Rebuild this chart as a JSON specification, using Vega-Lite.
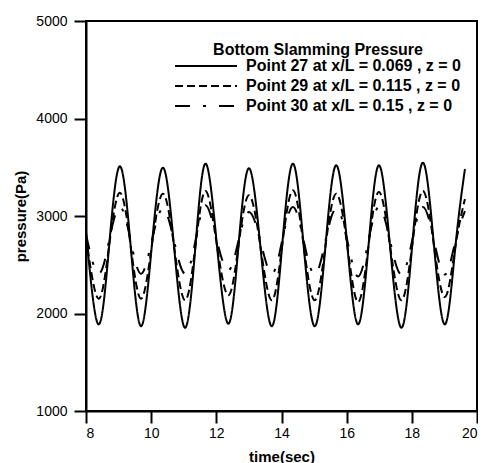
{
  "$schema": "https://vega.github.io/schema/vega-lite/v6.json",
  "width": 391,
  "height": 390,
  "padding": {"left": 13, "top": 14, "right": 0, "bottom": 0},
  "background": "white",
  "config": {
    "font": "Liberation Sans",
    "view": {"stroke": "black", "strokeWidth": 2}
  },
  "data": {"values": [
    {"s": "Point 27 at x/L = 0.069 , z = 0", "t": 8.0, "p": 2840},
    {"s": "Point 27 at x/L = 0.069 , z = 0", "t": 8.38, "p": 1889},
    {"s": "Point 27 at x/L = 0.069 , z = 0", "t": 8.71, "p": 2695},
    {"s": "Point 27 at x/L = 0.069 , z = 0", "t": 9.04, "p": 3510},
    {"s": "Point 27 at x/L = 0.069 , z = 0", "t": 9.37, "p": 2695},
    {"s": "Point 27 at x/L = 0.069 , z = 0", "t": 9.69, "p": 1869},
    {"s": "Point 27 at x/L = 0.069 , z = 0", "t": 10.02, "p": 2695},
    {"s": "Point 27 at x/L = 0.069 , z = 0", "t": 10.36, "p": 3496},
    {"s": "Point 27 at x/L = 0.069 , z = 0", "t": 10.70, "p": 2695},
    {"s": "Point 27 at x/L = 0.069 , z = 0", "t": 11.04, "p": 1854},
    {"s": "Point 27 at x/L = 0.069 , z = 0", "t": 11.36, "p": 2695},
    {"s": "Point 27 at x/L = 0.069 , z = 0", "t": 11.67, "p": 3537},
    {"s": "Point 27 at x/L = 0.069 , z = 0", "t": 12.02, "p": 2695},
    {"s": "Point 27 at x/L = 0.069 , z = 0", "t": 12.37, "p": 1895},
    {"s": "Point 27 at x/L = 0.069 , z = 0", "t": 12.68, "p": 2695},
    {"s": "Point 27 at x/L = 0.069 , z = 0", "t": 13.00, "p": 3490},
    {"s": "Point 27 at x/L = 0.069 , z = 0", "t": 13.35, "p": 2695},
    {"s": "Point 27 at x/L = 0.069 , z = 0", "t": 13.70, "p": 1869},
    {"s": "Point 27 at x/L = 0.069 , z = 0", "t": 14.02, "p": 2695},
    {"s": "Point 27 at x/L = 0.069 , z = 0", "t": 14.35, "p": 3537},
    {"s": "Point 27 at x/L = 0.069 , z = 0", "t": 14.68, "p": 2695},
    {"s": "Point 27 at x/L = 0.069 , z = 0", "t": 15.02, "p": 1869},
    {"s": "Point 27 at x/L = 0.069 , z = 0", "t": 15.35, "p": 2695},
    {"s": "Point 27 at x/L = 0.069 , z = 0", "t": 15.68, "p": 3520},
    {"s": "Point 27 at x/L = 0.069 , z = 0", "t": 16.02, "p": 2695},
    {"s": "Point 27 at x/L = 0.069 , z = 0", "t": 16.35, "p": 1889},
    {"s": "Point 27 at x/L = 0.069 , z = 0", "t": 16.67, "p": 2695},
    {"s": "Point 27 at x/L = 0.069 , z = 0", "t": 16.99, "p": 3520},
    {"s": "Point 27 at x/L = 0.069 , z = 0", "t": 17.33, "p": 2695},
    {"s": "Point 27 at x/L = 0.069 , z = 0", "t": 17.68, "p": 1854},
    {"s": "Point 27 at x/L = 0.069 , z = 0", "t": 18.01, "p": 2695},
    {"s": "Point 27 at x/L = 0.069 , z = 0", "t": 18.34, "p": 3547},
    {"s": "Point 27 at x/L = 0.069 , z = 0", "t": 18.68, "p": 2695},
    {"s": "Point 27 at x/L = 0.069 , z = 0", "t": 19.02, "p": 1889},
    {"s": "Point 27 at x/L = 0.069 , z = 0", "t": 19.34, "p": 2695},
    {"s": "Point 27 at x/L = 0.069 , z = 0", "t": 19.63, "p": 3482},

    {"s": "Point 29 at x/L = 0.115 , z = 0", "t": 8.0, "p": 2790},
    {"s": "Point 29 at x/L = 0.115 , z = 0", "t": 8.38, "p": 2152},
    {"s": "Point 29 at x/L = 0.115 , z = 0", "t": 8.71, "p": 2695},
    {"s": "Point 29 at x/L = 0.115 , z = 0", "t": 9.04, "p": 3239},
    {"s": "Point 29 at x/L = 0.115 , z = 0", "t": 9.37, "p": 2695},
    {"s": "Point 29 at x/L = 0.115 , z = 0", "t": 9.69, "p": 2152},
    {"s": "Point 29 at x/L = 0.115 , z = 0", "t": 10.02, "p": 2695},
    {"s": "Point 29 at x/L = 0.115 , z = 0", "t": 10.36, "p": 3229},
    {"s": "Point 29 at x/L = 0.115 , z = 0", "t": 10.70, "p": 2695},
    {"s": "Point 29 at x/L = 0.115 , z = 0", "t": 11.04, "p": 2135},
    {"s": "Point 29 at x/L = 0.115 , z = 0", "t": 11.36, "p": 2695},
    {"s": "Point 29 at x/L = 0.115 , z = 0", "t": 11.67, "p": 3256},
    {"s": "Point 29 at x/L = 0.115 , z = 0", "t": 12.02, "p": 2695},
    {"s": "Point 29 at x/L = 0.115 , z = 0", "t": 12.37, "p": 2187},
    {"s": "Point 29 at x/L = 0.115 , z = 0", "t": 12.68, "p": 2695},
    {"s": "Point 29 at x/L = 0.115 , z = 0", "t": 13.00, "p": 3212},
    {"s": "Point 29 at x/L = 0.115 , z = 0", "t": 13.35, "p": 2695},
    {"s": "Point 29 at x/L = 0.115 , z = 0", "t": 13.70, "p": 2135},
    {"s": "Point 29 at x/L = 0.115 , z = 0", "t": 14.02, "p": 2695},
    {"s": "Point 29 at x/L = 0.115 , z = 0", "t": 14.35, "p": 3263},
    {"s": "Point 29 at x/L = 0.115 , z = 0", "t": 14.68, "p": 2695},
    {"s": "Point 29 at x/L = 0.115 , z = 0", "t": 15.02, "p": 2135},
    {"s": "Point 29 at x/L = 0.115 , z = 0", "t": 15.35, "p": 2695},
    {"s": "Point 29 at x/L = 0.115 , z = 0", "t": 15.68, "p": 3229},
    {"s": "Point 29 at x/L = 0.115 , z = 0", "t": 16.02, "p": 2695},
    {"s": "Point 29 at x/L = 0.115 , z = 0", "t": 16.35, "p": 2118},
    {"s": "Point 29 at x/L = 0.115 , z = 0", "t": 16.67, "p": 2695},
    {"s": "Point 29 at x/L = 0.115 , z = 0", "t": 16.99, "p": 3246},
    {"s": "Point 29 at x/L = 0.115 , z = 0", "t": 17.33, "p": 2695},
    {"s": "Point 29 at x/L = 0.115 , z = 0", "t": 17.68, "p": 2135},
    {"s": "Point 29 at x/L = 0.115 , z = 0", "t": 18.01, "p": 2695},
    {"s": "Point 29 at x/L = 0.115 , z = 0", "t": 18.34, "p": 3256},
    {"s": "Point 29 at x/L = 0.115 , z = 0", "t": 18.68, "p": 2695},
    {"s": "Point 29 at x/L = 0.115 , z = 0", "t": 19.02, "p": 2170},
    {"s": "Point 29 at x/L = 0.115 , z = 0", "t": 19.34, "p": 2695},
    {"s": "Point 29 at x/L = 0.115 , z = 0", "t": 19.63, "p": 3175},

    {"s": "Point 30 at x/L = 0.15 , z = 0", "t": 8.0, "p": 2810},
    {"s": "Point 30 at x/L = 0.15 , z = 0", "t": 8.38, "p": 2408},
    {"s": "Point 30 at x/L = 0.15 , z = 0", "t": 8.71, "p": 2748},
    {"s": "Point 30 at x/L = 0.15 , z = 0", "t": 9.04, "p": 3092},
    {"s": "Point 30 at x/L = 0.15 , z = 0", "t": 9.37, "p": 2748},
    {"s": "Point 30 at x/L = 0.15 , z = 0", "t": 9.69, "p": 2408},
    {"s": "Point 30 at x/L = 0.15 , z = 0", "t": 10.02, "p": 2748},
    {"s": "Point 30 at x/L = 0.15 , z = 0", "t": 10.36, "p": 3075},
    {"s": "Point 30 at x/L = 0.15 , z = 0", "t": 10.70, "p": 2748},
    {"s": "Point 30 at x/L = 0.15 , z = 0", "t": 11.04, "p": 2408},
    {"s": "Point 30 at x/L = 0.15 , z = 0", "t": 11.36, "p": 2748},
    {"s": "Point 30 at x/L = 0.15 , z = 0", "t": 11.67, "p": 3110},
    {"s": "Point 30 at x/L = 0.15 , z = 0", "t": 12.02, "p": 2748},
    {"s": "Point 30 at x/L = 0.15 , z = 0", "t": 12.37, "p": 2443},
    {"s": "Point 30 at x/L = 0.15 , z = 0", "t": 12.68, "p": 2748},
    {"s": "Point 30 at x/L = 0.15 , z = 0", "t": 13.00, "p": 3041},
    {"s": "Point 30 at x/L = 0.15 , z = 0", "t": 13.35, "p": 2748},
    {"s": "Point 30 at x/L = 0.15 , z = 0", "t": 13.70, "p": 2408},
    {"s": "Point 30 at x/L = 0.15 , z = 0", "t": 14.02, "p": 2748},
    {"s": "Point 30 at x/L = 0.15 , z = 0", "t": 14.35, "p": 3092},
    {"s": "Point 30 at x/L = 0.15 , z = 0", "t": 14.68, "p": 2748},
    {"s": "Point 30 at x/L = 0.15 , z = 0", "t": 15.02, "p": 2400},
    {"s": "Point 30 at x/L = 0.15 , z = 0", "t": 15.35, "p": 2748},
    {"s": "Point 30 at x/L = 0.15 , z = 0", "t": 15.68, "p": 3075},
    {"s": "Point 30 at x/L = 0.15 , z = 0", "t": 16.02, "p": 2748},
    {"s": "Point 30 at x/L = 0.15 , z = 0", "t": 16.35, "p": 2380},
    {"s": "Point 30 at x/L = 0.15 , z = 0", "t": 16.67, "p": 2748},
    {"s": "Point 30 at x/L = 0.15 , z = 0", "t": 16.99, "p": 3092},
    {"s": "Point 30 at x/L = 0.15 , z = 0", "t": 17.33, "p": 2748},
    {"s": "Point 30 at x/L = 0.15 , z = 0", "t": 17.68, "p": 2400},
    {"s": "Point 30 at x/L = 0.15 , z = 0", "t": 18.01, "p": 2748},
    {"s": "Point 30 at x/L = 0.15 , z = 0", "t": 18.34, "p": 3092},
    {"s": "Point 30 at x/L = 0.15 , z = 0", "t": 18.68, "p": 2748},
    {"s": "Point 30 at x/L = 0.15 , z = 0", "t": 19.02, "p": 2400},
    {"s": "Point 30 at x/L = 0.15 , z = 0", "t": 19.34, "p": 2748},
    {"s": "Point 30 at x/L = 0.15 , z = 0", "t": 19.63, "p": 3050}
  ]},
  "mark": {"type": "line", "interpolate": "natural", "color": "black", "strokeWidth": 2},
  "encoding": {
    "x": {"field": "t", "type": "quantitative", "title": "time(sec)", "scale": {"domain": [8, 20], "nice": false},
      "axis": {"values": [8, 10, 12, 14, 16, 18, 20], "format": "d", "grid": false, "ticks": true, "tickSize": 12, "tickWidth": 2, "tickColor": "black", "domainColor": "black", "domainWidth": 2, "labelFontSize": 14, "labelColor": "black", "labelPadding": 3, "titleFontSize": 15, "titleFontWeight": "bold", "titleColor": "black", "titlePadding": 9}},
    "y": {"field": "p", "type": "quantitative", "title": "pressure(Pa)", "scale": {"domain": [1000, 5000], "nice": false},
      "axis": {"values": [1000, 2000, 3000, 4000, 5000], "format": "d", "grid": false, "ticks": true, "tickSize": 12, "tickWidth": 2, "tickColor": "black", "domainColor": "black", "domainWidth": 2, "labelFontSize": 14, "labelColor": "black", "labelPadding": 7, "titleFontSize": 15, "titleFontWeight": "bold", "titleColor": "black", "titlePadding": 7}},
    "strokeDash": {
      "field": "s", "type": "nominal",
      "scale": {"domain": ["Point 27 at x/L = 0.069 , z = 0", "Point 29 at x/L = 0.115 , z = 0", "Point 30 at x/L = 0.15 , z = 0"], "range": [[1, 0], [8, 4], [15, 13, 3, 13]]},
      "legend": {"title": "Bottom Slamming Pressure", "orient": "none", "legendX": 88, "legendY": 21, "titleAnchor": "middle", "titleFontSize": 16, "titleFontWeight": "bold", "titleColor": "black", "titlePadding": 0, "titleLimit": 500, "labelFontSize": 16, "labelFontWeight": "bold", "labelColor": "black", "labelLimit": 400, "symbolType": "stroke", "symbolSize": 3844, "symbolStrokeWidth": 2, "symbolStrokeColor": "black", "labelOffset": 8, "rowPadding": 4, "clipHeight": 16}
    }
  }
}
